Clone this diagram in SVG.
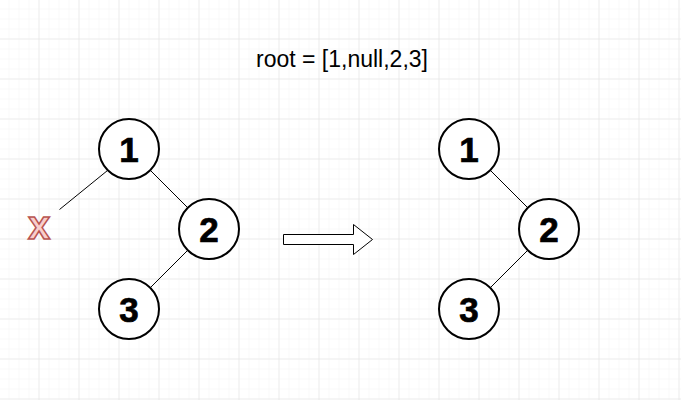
<svg xmlns="http://www.w3.org/2000/svg" width="681" height="400" viewBox="0 0 681 400">
  <defs>
    <pattern id="minor" x="-0.5" y="-0.5" width="10" height="10" patternUnits="userSpaceOnUse">
      <path d="M10 0 V10 M0 10 H10" fill="none" stroke="#f2f2f2" stroke-width="1"/>
    </pattern>
    <pattern id="major" x="-0.5" y="-0.5" width="40" height="40" patternUnits="userSpaceOnUse">
      <path d="M40 0 V40 M0 40 H40" fill="none" stroke="#e0e0e0" stroke-width="1"/>
    </pattern>
    <style>
      .node circle { fill: #ffffff; stroke: #000000; stroke-width: 2; }
      .node text { font-family: "Liberation Sans", Arial, Helvetica, sans-serif; font-weight: bold; font-size: 35px; fill: #000000; stroke: #000000; stroke-width: 0.7; text-anchor: middle; }
      .edge { stroke: #000000; stroke-width: 1; fill: none; }
      .title { font-family: "Liberation Sans", Arial, Helvetica, sans-serif; font-size: 23px; fill: #000000; text-anchor: middle; }
      .null-mark { font-family: "Liberation Sans", Arial, Helvetica, sans-serif; font-weight: bold; font-size: 40px; fill: #f8cecc; stroke: #b85450; stroke-width: 1.5; text-anchor: middle; }
    </style>
  </defs>

  <!-- background grid -->
  <rect x="0" y="0" width="681" height="400" fill="#ffffff"/>
  <rect x="0" y="0" width="681" height="400" fill="url(#minor)"/>
  <rect x="0" y="0" width="681" height="400" fill="url(#major)"/>

  <text class="title" x="342" y="67">root = [1,null,2,3]</text>

  <!-- connectors -->
  <g id="edges">
    <line class="edge" x1="107.5" y1="170.5" x2="59.5" y2="209.5"/>
    <line class="edge" x1="150.2" y1="170.2" x2="187.8" y2="207.8"/>
    <line class="edge" x1="187.8" y1="250.2" x2="150.2" y2="287.8"/>
    <line class="edge" x1="490.2" y1="170.2" x2="527.8" y2="207.8"/>
    <line class="edge" x1="527.8" y1="250.2" x2="490.2" y2="287.8"/>
  </g>

  <!-- null child marker -->
  <g id="null-left">
    <text class="null-mark" x="39" y="239">x</text>
  </g>

  <!-- tree before -->
  <g id="a1" class="node"><circle cx="129" cy="149" r="30"/><text x="129" y="161.5">1</text></g>
  <g id="a2" class="node"><circle cx="209" cy="229" r="30"/><text x="209" y="241.5">2</text></g>
  <g id="a3" class="node"><circle cx="129" cy="309" r="30"/><text x="129" y="321.5">3</text></g>

  <!-- transform arrow -->
  <g id="arrow">
    <polygon points="283.5,234.5 353.5,234.5 353.5,224.5 372.5,239.5 353.5,254.5 353.5,244.5 283.5,244.5" fill="#ffffff" stroke="#000000" stroke-width="1"/>
  </g>

  <!-- tree after -->
  <g id="b1" class="node"><circle cx="469" cy="149" r="30"/><text x="469" y="161.5">1</text></g>
  <g id="b2" class="node"><circle cx="549" cy="229" r="30"/><text x="549" y="241.5">2</text></g>
  <g id="b3" class="node"><circle cx="469" cy="309" r="30"/><text x="469" y="321.5">3</text></g>
</svg>
